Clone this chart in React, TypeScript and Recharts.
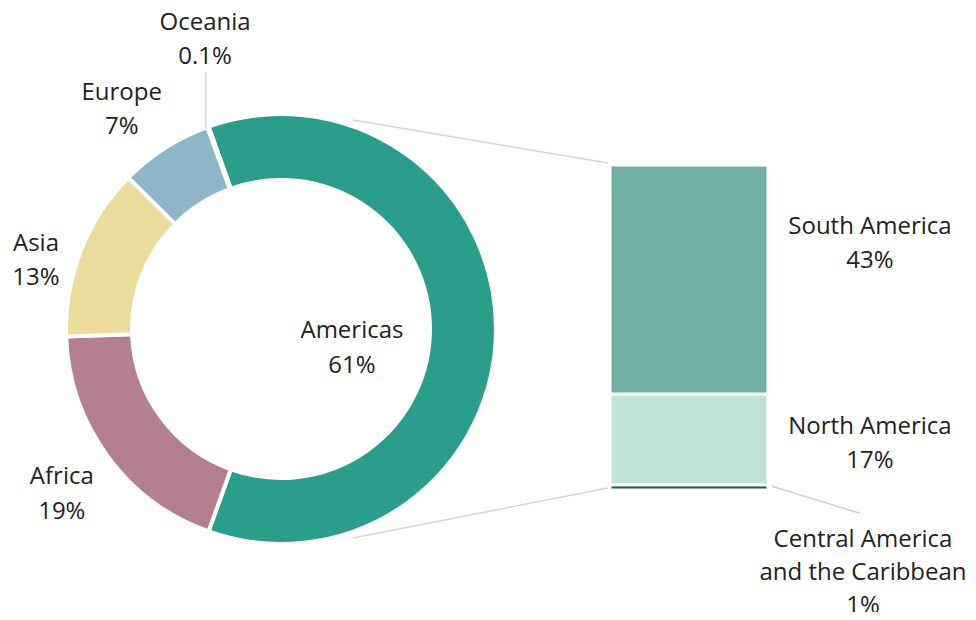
import React from 'react';
import { PieChart, Pie, Cell, BarChart, Bar, XAxis, YAxis, LabelList } from 'recharts';

// ---- data ----
const regions = ['Americas', 'Africa', 'Asia', 'Europe', 'Oceania'];
const regionShares = [61, 19, 13, 7, 0.1];
const regionShareLabels = ['61%', '19%', '13%', '7%', '0.1%'];

const subregions = ['Central America and the Caribbean', 'North America', 'South America'];
const subregionShares = [1, 17, 43];
const subregionShareLabels = ['1%', '17%', '43%'];

// ---- styles / layout ----
const regionColors = ['#2a9e8a', '#b47f8f', '#ecdc9c', '#8fb5c8', '#5f8fa8'];
const subregionColors = ['#1b6355', '#c1e3d5', '#6fb1a5'];
const TEXT = '#222222';
const FONT = '"Open Sans", Lato, sans-serif';
const FS = 24;

const W = 976;
const H = 620;
const CX = 281;
const CY = 329;
const R_OUT = 215;
const R_IN = 149;
const totalShare = regionShares.reduce((a, b) => a + b, 0);
const START = (regionShares[0] / totalShare) * 360 / 2; // Americas centred on 3 o'clock

// label placement (angle in degrees, radius from centre) per region
const labelPlacement = [
  { angle: -13.5, radius: 73 },
  { angle: -143.4, radius: 273 },
  { angle: 163.9, radius: 255 },
  { angle: 125.7, radius: 273 },
  { angle: 104.6, radius: 301 },
];

const pieData = regions.map((name, i) => ({ name, value: regionShares[i], pct: regionShareLabels[i] }));
const barRow: Record<string, any> = { cat: 'Americas' };
subregions.forEach((s, i) => (barRow[s] = subregionShares[i]));
const barData = [barRow];

// bar chart geometry
const BAR_LEFT = 560;
const BAR_W = 416;
const PLOT_LEFT = 610;
const PLOT_RIGHT = 768;
const PLOT_TOP = 165;
const PLOT_BOTTOM = 490;

const RAD = Math.PI / 180;

const TwoLine = ({ x, y, lines, lh = 34.5 }: { x: number; y: number; lines: string[]; lh?: number }) => {
  const y0 = y - ((lines.length - 1) * lh) / 2;
  return (
    <text x={x} textAnchor="middle" fill={TEXT} fontFamily={FONT} fontSize={FS}>
      {lines.map((l, i) => (
        <tspan key={i} x={x} y={y0 + i * lh} dominantBaseline="central">
          {l}
        </tspan>
      ))}
    </text>
  );
};

const renderPieLabel = (props: any) => {
  const { cx, cy, index, outerRadius } = props;
  const p = labelPlacement[index];
  const x = cx + p.radius * Math.cos(p.angle * RAD);
  const y = cy - p.radius * Math.sin(p.angle * RAD);
  const items: any[] = [];
  if (index === 4) {
    const mid = props.midAngle;
    const sx = cx + outerRadius * Math.cos(mid * RAD);
    const sy = cy - outerRadius * Math.sin(mid * RAD);
    items.push(<line key="l" x1={sx - 2} y1={sy + 2} x2={sx - 2} y2={y + 34} stroke="#c8c8c8" strokeWidth={1} />);
  }
  items.push(<TwoLine key="t" x={x} y={y} lines={[regions[index], regionShareLabels[index]]} />);
  return <g>{items}</g>;
};

const makeBarLabel = (idx: number) => (props: any) => {
  const { x, y, width, height } = props;
  const right = x + width;
  if (idx === 2) {
    return <TwoLine x={right + 102} y={y + height / 2 - 38} lines={['South America', subregionShareLabels[2]]} />;
  }
  if (idx === 1) {
    return <TwoLine x={right + 102} y={y + height / 2 + 2} lines={['North America', subregionShareLabels[1]]} />;
  }
  return (
    <g>
      <line x1={right + 4} y1={y + height / 2 - 1} x2={right + 92} y2={y + height / 2 + 26} stroke="#d0d0d0" strokeWidth={1.5} />
      <TwoLine x={right + 95} y={y + height / 2 + 83} lh={33} lines={['Central America', 'and the Caribbean', subregionShareLabels[0]]} />
    </g>
  );
};

const Connectors = () => {
  const a = 71 * RAD;
  const rr = R_OUT + 6;
  const x1 = CX + rr * Math.cos(a);
  const yTop = CY - rr * Math.sin(a);
  const yBot = CY + rr * Math.sin(a);
  return (
    <svg width={W} height={H} style={{ position: 'absolute', left: 0, top: 0, pointerEvents: 'none' }}>
      <line x1={x1} y1={yTop} x2={PLOT_LEFT - 2} y2={PLOT_TOP - 2} stroke="#d6d6d6" strokeWidth={1.5} />
      <line x1={x1} y1={yBot} x2={PLOT_LEFT - 2} y2={PLOT_BOTTOM - 2} stroke="#d6d6d6" strokeWidth={1.5} />
    </svg>
  );
};

export default function App() {
  return (
    <div style={{ position: 'relative', width: W, height: H, margin: -8, background: '#fff', overflow: 'hidden' }}>
      <div style={{ position: 'absolute', left: 0, top: 0 }}>
        <PieChart width={W - BAR_W + 60} height={H} margin={{ top: 0, right: 0, bottom: 0, left: 0 }}>
          <Pie
            data={pieData}
            dataKey="value"
            nameKey="name"
            cx={CX}
            cy={CY}
            outerRadius={R_OUT}
            innerRadius={R_IN}
            startAngle={START}
            endAngle={START - 360}
            stroke="#ffffff"
            strokeWidth={4}
            label={renderPieLabel}
            labelLine={false}
            isAnimationActive={false}
          >
            {pieData.map((d, i) => (
              <Cell key={d.name} fill={regionColors[i]} />
            ))}
          </Pie>
        </PieChart>
      </div>
      <Connectors />
      <div style={{ position: 'absolute', left: BAR_LEFT, top: 0 }}>
        <BarChart
          width={BAR_W}
          height={H}
          data={barData}
          margin={{ top: PLOT_TOP, bottom: H - PLOT_BOTTOM, left: PLOT_LEFT - BAR_LEFT, right: BAR_LEFT + BAR_W - PLOT_RIGHT }}
          barCategoryGap={0}
          barGap={0}
        >
          <XAxis dataKey="cat" hide />
          <YAxis hide domain={[0, 61]} />
          {subregions.map((s, i) => (
            <Bar key={s} dataKey={s} stackId="a" fill={subregionColors[i]} stroke="#ffffff" strokeWidth={3} isAnimationActive={false}>
              <LabelList dataKey={s} content={makeBarLabel(i)} />
            </Bar>
          ))}
        </BarChart>
      </div>
    </div>
  );
}
